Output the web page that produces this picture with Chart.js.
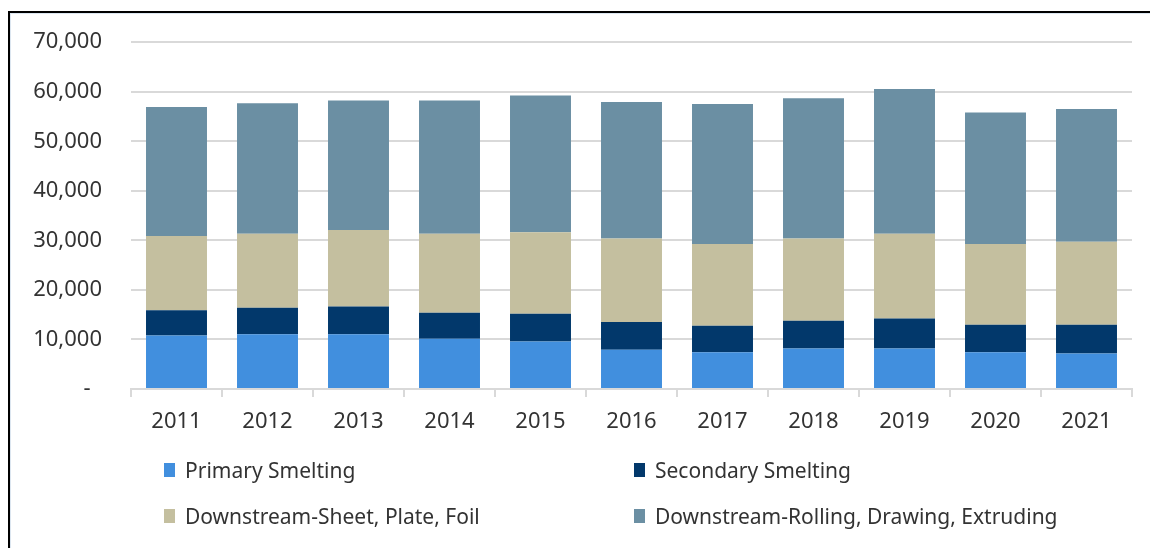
<!DOCTYPE html>
<html>
<head>
<meta charset="utf-8">
<script src="https://cdn.jsdelivr.net/npm/chart.js@4/dist/chart.umd.min.js"></script>
<style>
	html, body { margin: 0; padding: 0; background: #fff; }
	#frame {
		position: absolute; left: 8px; top: 11px; width: 1142px; height: 537px;
		border-top: 2px solid #000; border-left: 2px solid #000;
	}
	#inner {
		position: absolute; left: 0; top: 0; right: 0; bottom: 0;
		border-top: 1px solid #dce6f0; border-left: 1px solid #dce6f0;
	}
	#wrap { position: absolute; left: 0; top: 0; width: 1150px; height: 449px; }
	#legend {
		position: absolute; left: 0; top: 448px; width: 1150px; height: 100px;
		font-family: "Noto Sans", sans-serif; font-size: 21px; color: #333;
	}
	.item { position: absolute; display: flex; align-items: center; height: 28px; white-space: nowrap; }
	.box { width: 11px; height: 14px; margin-right: 10px; }
</style>
</head>
<body>
<div id="frame"><div id="inner"></div></div>
<div id="wrap"><canvas id="chart" width="1150" height="449"></canvas></div>
<div id="legend"></div>
<script>
const years = ['2011', '2012', '2013', '2014', '2015', '2016', '2017', '2018', '2019', '2020', '2021'];
const primarySmelting = [10800, 11070, 11070, 10140, 9600, 7920, 7430, 8180, 8180, 7430, 7170];
const secondarySmelting = [5100, 5330, 5600, 5250, 5590, 5580, 5340, 5600, 6060, 5540, 5800];
const sheetPlateFoil = [14970, 14950, 15410, 15960, 16430, 16900, 16480, 16620, 17110, 16280, 16760];
const rollingDrawingExtruding = [26060, 26330, 26140, 26870, 27610, 27540, 28290, 28290, 29220, 26550, 26800];

const seriesNames = ['Primary Smelting', 'Secondary Smelting', 'Downstream-Sheet, Plate, Foil', 'Downstream-Rolling, Drawing, Extruding'];
const seriesColors = ['#418fde', '#02386b', '#c4bf9f', '#6b8fa3'];
const seriesData = [primarySmelting, secondarySmelting, sheetPlateFoil, rollingDrawingExtruding];

const textColor = '#333333';
const gridColor = '#d9d9d9';

const ctx = document.getElementById('chart').getContext('2d');
const chart = new Chart(ctx, {
	type: 'bar',
	data: {
		labels: years,
		datasets: seriesNames.map((name, i) => ({
			label: name,
			data: seriesData[i],
			backgroundColor: seriesColors[i],
			borderWidth: 0,
			barPercentage: 0.67,
			categoryPercentage: 1
		}))
	},
	options: {
		responsive: false,
		animation: false,
		layout: {
			padding: { top: 41, right: 18, left: 0, bottom: 0 }
		},
		plugins: {
			legend: { display: false },
			tooltip: { enabled: false }
		},
		scales: {
			x: {
				stacked: true,
				afterFit: (scale) => { scale.height = 60; },
				grid: {
					offset: true,
					drawOnChartArea: false,
					tickLength: 8,
					color: gridColor,
					lineWidth: 2
				},
				border: { color: gridColor, width: 2 },
				ticks: {
					color: textColor,
					padding: 12,
					font: { family: 'Noto Sans', size: 22 }
				}
			},
			y: {
				stacked: true,
				min: 0,
				max: 70000,
				afterFit: (scale) => { scale.width = 131; },
				grid: {
					color: gridColor,
					lineWidth: 2,
					drawTicks: false
				},
				border: { display: false },
				ticks: {
					stepSize: 10000,
					color: textColor,
					padding: 29,
					font: { family: 'Noto Sans', size: 22 },
					callback: (v) => v === 0 ? '-  ' : v.toLocaleString('en-US')
				}
			}
		}
	}
});

// two-column legend under the chart
const legendPos = [[164, 8], [634, 8], [164, 54], [634, 54]];
const legendEl = document.getElementById('legend');
seriesNames.forEach((name, i) => {
	const item = document.createElement('div');
	item.className = 'item';
	item.style.left = legendPos[i][0] + 'px';
	item.style.top = legendPos[i][1] + 'px';
	const box = document.createElement('span');
	box.className = 'box';
	box.style.background = seriesColors[i];
	const label = document.createElement('span');
	label.textContent = name;
	item.appendChild(box);
	item.appendChild(label);
	legendEl.appendChild(item);
});
</script>
</body>
</html>
